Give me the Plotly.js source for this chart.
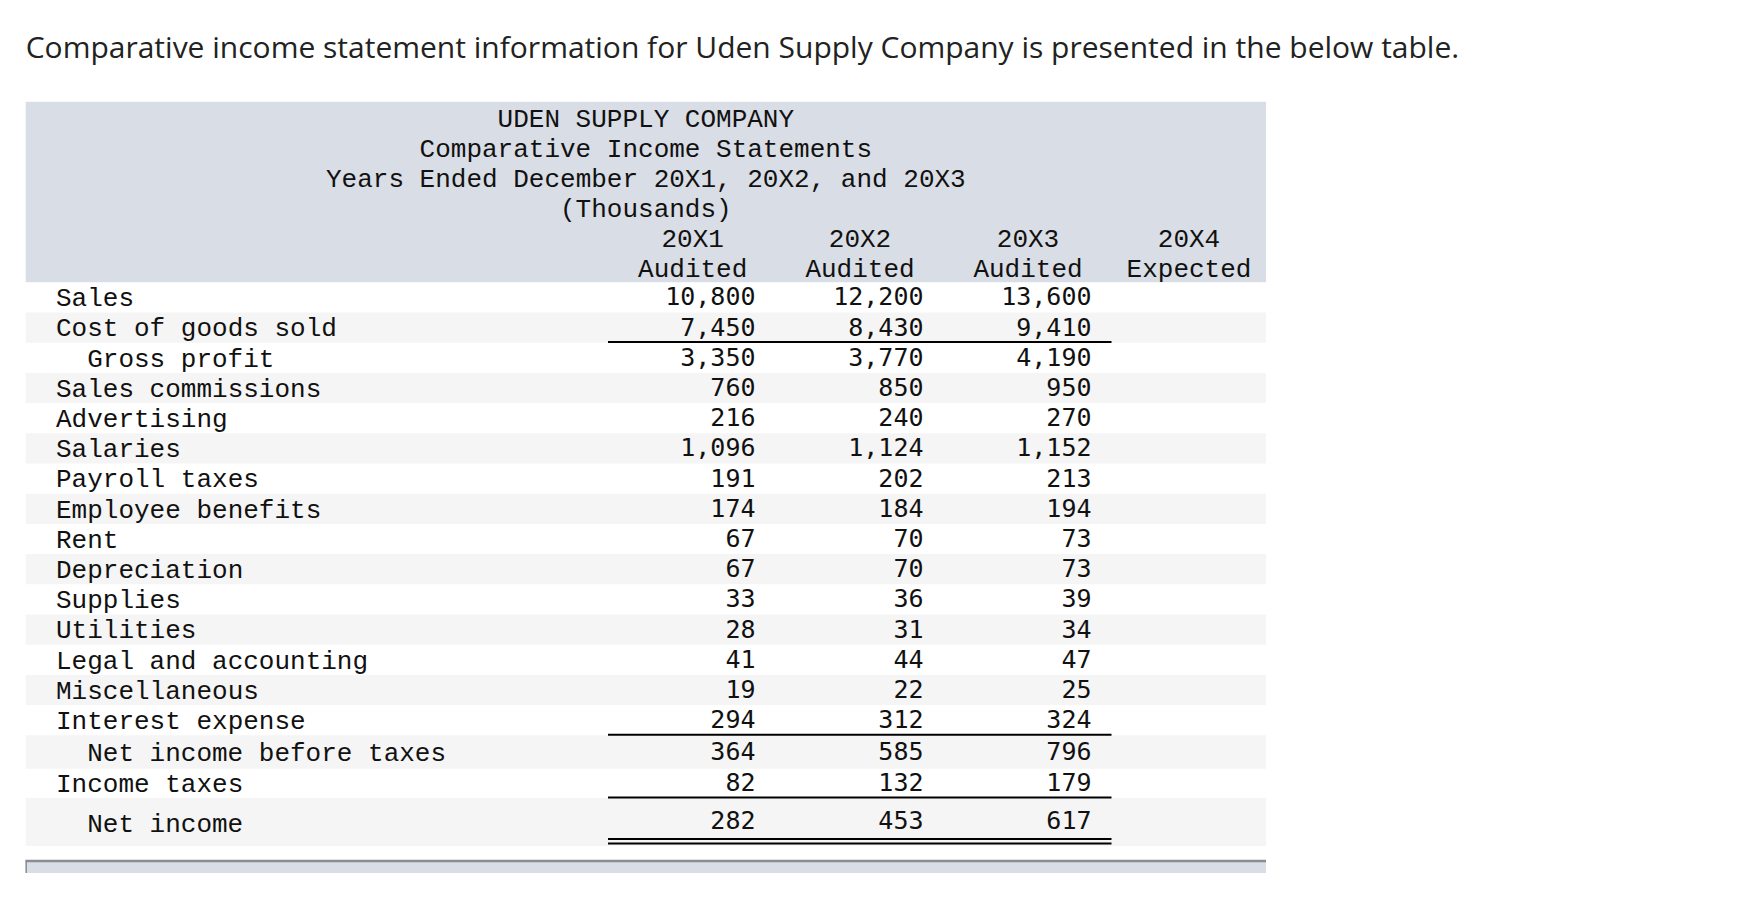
<!DOCTYPE html>
<html><head><meta charset="utf-8">
<script src="https://cdn.plot.ly/plotly-3.0.1.min.js"></script>
<style>html,body{margin:0;padding:0;background:#fff;overflow:hidden}</style>
</head><body><div id="chart" style="width:1752px;height:914px"></div>
<script>
// ---------------- DATA ----------------
const pageTitle = "Comparative income statement information for Uden Supply Company is presented in the below table.";
const headerLines = ["UDEN SUPPLY COMPANY", "Comparative Income Statements", "Years Ended December 20X1, 20X2, and 20X3", "(Thousands)"];
const years = ["20X1", "20X2", "20X3", "20X4"];
const yearStatus = ["Audited", "Audited", "Audited", "Expected"];
const rowLabels = ["Sales", "Cost of goods sold", "Gross profit", "Sales commissions", "Advertising", "Salaries",
  "Payroll taxes", "Employee benefits", "Rent", "Depreciation", "Supplies", "Utilities", "Legal and accounting",
  "Miscellaneous", "Interest expense", "Net income before taxes", "Income taxes", "Net income"];
const rowIndent = [0, 0, 1, 0, 0, 0, 0, 0, 0, 0, 0, 0, 0, 0, 0, 1, 0, 1];
const values20X1 = [10800, 7450, 3350, 760, 216, 1096, 191, 174, 67, 67, 33, 28, 41, 19, 294, 364, 82, 282];
const values20X2 = [12200, 8430, 3770, 850, 240, 1124, 202, 184, 70, 70, 36, 31, 44, 22, 312, 585, 132, 453];
const values20X3 = [13600, 9410, 4190, 950, 270, 1152, 213, 194, 73, 73, 39, 34, 47, 25, 324, 796, 179, 617];
const values20X4 = [null, null, null, null, null, null, null, null, null, null, null, null, null, null, null, null, null, null];
const singleUnderlineRows = ["Cost of goods sold", "Interest expense", "Income taxes"];
const doubleUnderlineRows = ["Net income"];

// ---------------- GEOMETRY / STYLE ----------------
const W = 1752, H = 914;
const tableLeft = 25.7, tableRight = 1266;
const headTop = 101.7, headBottom = 282.3;
const headLineY0 = 120.6, headLinePitch = 30.0;
const stdRowH = 30.2;
const specialRowH = {"Net income before taxes": 33.5, "Income taxes": 29.2, "Net income": 48};
const labelX = 56, indentW = 31.2;
const numRight = [755.5, 923.5, 1091.5, 1259];
const colCenter = [692.7, 860, 1028, 1189];
const centerX = (tableLeft + tableRight) / 2;
const ulLeft = 608, ulRight = 1111.5;
const footTop = 860, footBottom = 873;
const headBg = "#d9dde5", stripe = "#f5f5f5", ink = "#111111";
const monoFont = "Liberation Mono, Courier New, monospace";
const numFont = "DejaVu Sans Mono, monospace";

// row tops
const rowTop = [], rowH = [];
let acc = headBottom;
rowLabels.forEach((lab) => { const h = specialRowH[lab] || stdRowH; rowTop.push(acc); rowH.push(h); acc += h; });
const rowMid = rowLabels.map((lab, i) => rowTop[i] + rowH[i] / 2 + (lab === "Net income" ? 3.8 : 2.2));
const numMid = rowLabels.map((lab, i) => rowTop[i] + rowH[i] / 2 + (lab === "Net income" ? 0.6 : 1.8));

const traces = [];
// header lines
traces.push({
  type: "scatter", mode: "text", x: headerLines.map(() => centerX),
  y: headerLines.map((_, i) => headLineY0 + i * headLinePitch), text: headerLines,
  textposition: "middle center", textfont: {family: monoFont, size: 26, color: ink}, hoverinfo: "skip"
});
traces.push({
  type: "scatter", mode: "text", x: colCenter, y: years.map(() => headLineY0 + 4 * headLinePitch),
  text: years, textposition: "middle center", textfont: {family: monoFont, size: 26, color: ink}, hoverinfo: "skip"
});
traces.push({
  type: "scatter", mode: "text", x: colCenter, y: yearStatus.map(() => headLineY0 + 5 * headLinePitch),
  text: yearStatus, textposition: "middle center", textfont: {family: monoFont, size: 26, color: ink}, hoverinfo: "skip"
});
// row labels
traces.push({
  type: "scatter", mode: "text", x: rowLabels.map((_, i) => labelX + rowIndent[i] * indentW), y: rowMid,
  text: rowLabels, textposition: "middle right", textfont: {family: monoFont, size: 26, color: ink}, hoverinfo: "skip"
});
// number columns
[values20X1, values20X2, values20X3, values20X4].forEach((vals, c) => {
  traces.push({
    type: "scatter", mode: "text", x: vals.map(() => numRight[c]), y: numMid,
    text: vals.map(v => v == null ? "" : v.toLocaleString("en-US")),
    textposition: "middle left", textfont: {family: numFont, size: 25, color: ink}, hoverinfo: "skip"
  });
});

// shapes
const shapes = [];
shapes.push({type: "rect", xref: "x", yref: "y", x0: tableLeft, x1: tableRight, y0: headTop, y1: headBottom,
  fillcolor: headBg, line: {width: 0}, layer: "below"});
rowLabels.forEach((lab, i) => {
  const bottom = rowTop[i] + rowH[i];
  if (i % 2 === 1) shapes.push({type: "rect", xref: "x", yref: "y", x0: tableLeft, x1: tableRight,
    y0: rowTop[i], y1: bottom, fillcolor: stripe, line: {width: 0}, layer: "below"});
  if (singleUnderlineRows.includes(lab)) shapes.push({type: "line", xref: "x", yref: "y", x0: ulLeft, x1: ulRight,
    y0: bottom - 0.6, y1: bottom - 0.6, line: {color: "#000", width: 2}});
  if (doubleUnderlineRows.includes(lab)) {
    [7, 2.4].forEach(off => shapes.push({type: "line", xref: "x", yref: "y", x0: ulLeft, x1: ulRight,
      y0: bottom - off, y1: bottom - off, line: {color: "#000", width: 2}}));
  }
});
// footer bar
shapes.push({type: "rect", xref: "x", yref: "y", x0: tableLeft, x1: tableRight, y0: footTop, y1: footBottom,
  fillcolor: headBg, line: {width: 0}, layer: "below"});
shapes.push({type: "line", xref: "x", yref: "y", x0: tableLeft, x1: tableRight, y0: footTop + 1, y1: footTop + 1,
  line: {color: "#8a8d92", width: 2.5}});
shapes.push({type: "line", xref: "x", yref: "y", x0: tableLeft + 0.5, x1: tableLeft + 0.5, y0: footTop, y1: footBottom,
  line: {color: "#8a8d92", width: 1.5}});

const layout = {
  width: W, height: H, margin: {l: 0, r: 0, t: 0, b: 0, pad: 0},
  paper_bgcolor: "#ffffff", plot_bgcolor: "#ffffff", showlegend: false, hovermode: false,
  title: {text: pageTitle, x: tableLeft / W, xanchor: "left", xref: "paper", y: 1 - 47 / H, yanchor: "middle", yref: "paper",
    font: {family: "Open Sans, Lato, sans-serif", size: 30, color: "#222222"}},
  xaxis: {range: [0, W], visible: false, fixedrange: true},
  yaxis: {range: [H, 0], visible: false, fixedrange: true},
  shapes: shapes
};
Plotly.newPlot("chart", traces, layout, {staticPlot: true, displayModeBar: false});
</script></body></html>
